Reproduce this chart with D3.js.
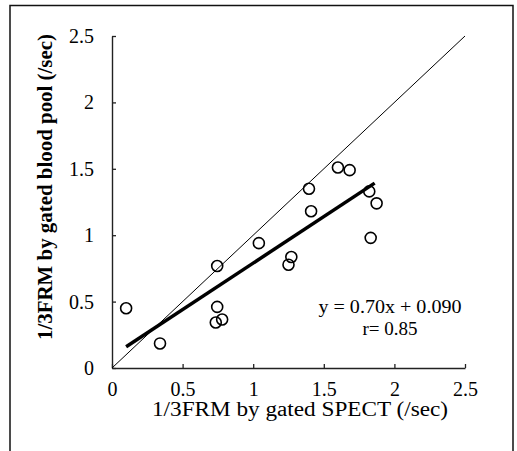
<!DOCTYPE html>
<html><head><meta charset="utf-8">
<script src="https://cdn.jsdelivr.net/npm/d3@7"></script>
<style>body{margin:0;background:#fff}svg{display:block}</style>
</head><body>
<script>
const xValues = [0.10, 0.34, 0.745, 0.745, 0.735, 0.78, 1.04, 1.27, 1.25, 1.395, 1.41, 1.60, 1.683, 1.822, 1.874, 1.832];
const yValues = [0.45, 0.185, 0.768, 0.46, 0.343, 0.365, 0.94, 0.836, 0.778, 1.35, 1.18, 1.51, 1.49, 1.33, 1.24, 0.98];
const tickValues = [0, 0.5, 1, 1.5, 2, 2.5];
const tickLabels = ["0", "0.5", "1", "1.5", "2", "2.5"];
const fitSlope = 0.70, fitIntercept = 0.090, fitRange = [0.10, 1.86];
const identityRange = [0, 2.5];
const equationText = "y = 0.70x + 0.090";
const rText = "r= 0.85";
const xTitle = "1/3FRM by gated SPECT (/sec)";
const yTitle = "1/3FRM by gated blood pool (/sec)";

const W = 517, H = 451;
const svg = d3.select("body").append("svg").attr("width", W).attr("height", H);
const font = "'Liberation Serif', 'Times New Roman', serif";

// frame
svg.append("path").attr("d", `M10,${H} L10,5.5 L513,5.5 L513,${H}`)
  .attr("fill", "none").attr("stroke", "#111").attr("stroke-width", 1.5);

const x = d3.scaleLinear().domain([0, 2.5]).range([112, 465]);
const y = d3.scaleLinear().domain([0, 2.5]).range([368, 36]);

const xAxis = d3.axisBottom(x).tickValues(tickValues).tickSize(-4).tickSizeOuter(0).tickFormat((d,i)=>tickLabels[i]).tickPadding(24);
const yAxis = d3.axisLeft(y).tickValues(tickValues).tickSize(-4).tickSizeOuter(0).tickFormat((d,i)=>tickLabels[i]).tickPadding(18);

const gx = svg.append("g").attr("transform", `translate(0,${y(0)})`).call(xAxis);
const gy = svg.append("g").attr("transform", `translate(${x(0)},0)`).call(yAxis);
[gx, gy].forEach(g => {
  g.select(".domain").attr("stroke", "#222").attr("stroke-width", 1.4);
  g.selectAll(".tick line").attr("stroke", "#222").attr("stroke-width", 1.3);
  g.selectAll(".tick text").attr("font-family", font).attr("font-size", 20).attr("fill", "#000");
});
gx.selectAll(".tick text").attr("dy", "0.2em");

// identity line
svg.append("line")
  .attr("x1", x(identityRange[0])).attr("y1", y(identityRange[0]))
  .attr("x2", x(identityRange[1])).attr("y2", y(identityRange[1]))
  .attr("stroke", "#000").attr("stroke-width", 1);

// regression line
svg.append("line")
  .attr("x1", x(fitRange[0])).attr("y1", y(fitSlope*fitRange[0]+fitIntercept))
  .attr("x2", x(fitRange[1])).attr("y2", y(fitSlope*fitRange[1]+fitIntercept))
  .attr("stroke", "#000").attr("stroke-width", 3.5);

// points
svg.append("g").selectAll("circle").data(xValues.map((v,i)=>[v, yValues[i]])).join("circle")
  .attr("cx", d=>x(d[0])).attr("cy", d=>y(d[1])).attr("r", 5.5)
  .attr("fill", "none").attr("stroke", "#000").attr("stroke-width", 1.6);

// annotations
svg.append("text").attr("x", 390).attr("y", 313).attr("text-anchor", "middle")
  .attr("font-family", font).attr("font-size", 19)
  .attr("textLength", 143).attr("lengthAdjust", "spacingAndGlyphs").text(equationText);
svg.append("text").attr("x", 390).attr("y", 335).attr("text-anchor", "middle")
  .attr("font-family", font).attr("font-size", 19).text(rText);

// titles
svg.append("text").attr("x", 300).attr("y", 416).attr("text-anchor", "middle")
  .attr("font-family", font).attr("font-size", 20)
  .attr("textLength", 296).attr("lengthAdjust", "spacingAndGlyphs").text(xTitle);
svg.append("text").attr("transform", "translate(52,187) rotate(-90)").attr("text-anchor", "middle")
  .attr("font-family", font).attr("font-size", 20).attr("font-weight", "bold")
  .attr("textLength", 306).attr("lengthAdjust", "spacingAndGlyphs").text(yTitle);
</script>
</body></html>
